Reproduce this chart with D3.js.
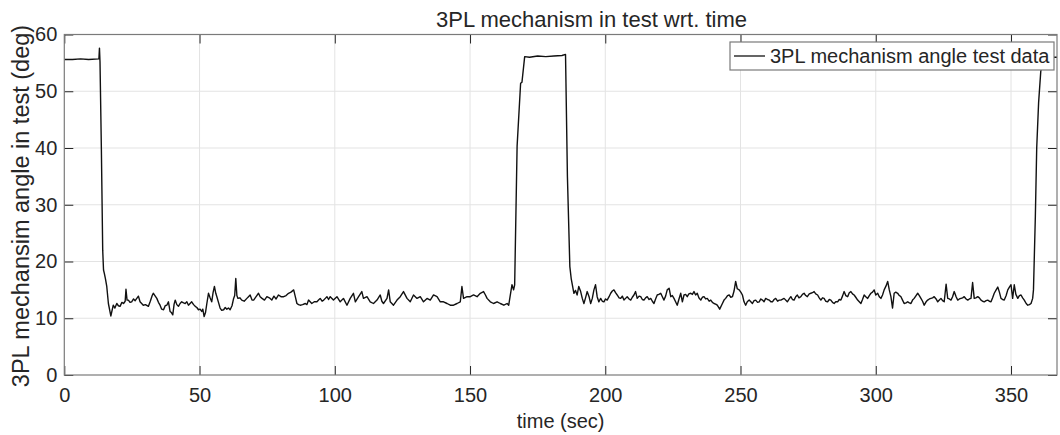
<!DOCTYPE html>
<html>
<head>
<meta charset="utf-8">
<script src="https://cdn.jsdelivr.net/npm/d3@7"></script>
<style>
  html, body { margin: 0; padding: 0; background: #ffffff; }
  svg { display: block; }
  text { font-family: "Liberation Sans", Arial, Helvetica, sans-serif; fill: #262626; }
</style>
</head>
<body>
<svg id="chart" width="1060" height="435"></svg>
<script>
// ---- data (time in seconds, angle in degrees) ----
const chartTitle = "3PL mechanism in test wrt. time";
const xLabel = "time (sec)";
const yLabel = "3PL mechansim angle in test (deg)";
const legendLabel = "3PL mechanism angle test data";
const xTicks = [0, 50, 100, 150, 200, 250, 300, 350];
const yTicks = [0, 10, 20, 30, 40, 50, 60];
const xDomain = [0, 367];
const yDomain = [0, 60];

const angleSeries = [
  [0,55.6],[3,55.6],[6,55.7],[9,55.6],[12.8,55.7],[13.0,57.6],[13.2,55.2],[13.7,40],[14.2,22],[14.5,18.5],
  [14.8,17.9],[15.2,17.0],[15.7,15.6],[16.3,12.6],[17.2,10.4],
  [18.1,12.3],[18.7,11.8],[19.4,12.6],[20.0,12.2],[20.6,12.1],[21.3,12.8],[21.9,12.6],[22.5,13.0],[22.8,15.1],[23.2,13.2],
  [23.7,13.2],[24.3,12.8],[24.9,12.9],[25.6,13.4],[26.2,13.1],[26.8,13.5],[27.4,13.9],[28.0,12.9],[28.6,12.6],[29.2,12.3],
  [30.0,12.4],[31.1,12.1],[31.8,13.0],[32.5,14.0],[32.9,14.4],[33.5,14.0],[34.2,13.5],[34.8,12.8],[35.4,12.3],[36.0,11.6],
  [36.7,11.5],[37.3,12.2],[37.9,12.3],[38.5,12.9],[39.1,11.2],[39.6,11.0],[40.1,10.6],[40.6,12.5],[41.0,13.2],[41.6,12.4],
  [42.2,12.1],[42.8,12.6],[43.4,12.9],[44.1,12.7],[44.7,12.6],[45.3,12.9],[45.9,12.3],[46.5,12.6],[47.1,12.9],[47.8,12.4],
  [48.4,12.1],[49.0,11.9],[49.6,11.5],[50.2,11.6],[50.8,11.2],[51.2,11.6],[51.7,10.3],[52.2,11.0],[52.7,12.6],[53.3,14.4],
  [53.9,13.6],[54.5,12.9],[55.0,14.5],[55.5,15.6],[56.0,14.4],[56.4,13.8],[57.0,12.8],[57.6,11.8],[58.2,11.4],[58.9,11.5],
  [59.5,11.9],[60.1,11.6],[60.7,11.8],[61.3,11.5],[62.0,12.2],[62.6,13.5],[63.0,14.0],[63.4,17.0],[63.8,14.0],[64.2,13.5],
  [64.9,13.6],[65.6,13.2],[66.5,13.0],[67.5,13.5],[68.1,13.8],[68.7,14.1],[69.4,13.2],[70.0,13.2],[70.9,13.8],[71.8,14.4],
  [72.4,13.8],[73.1,13.5],[74.0,13.2],[74.9,13.8],[75.8,13.6],[76.7,13.2],[77.5,13.9],[78.3,13.4],[79.2,14.1],[80.1,13.8],
  [81.1,13.8],[82.0,14.0],[82.9,14.4],[83.8,14.6],[84.8,15.0],[85.4,13.8],[86.0,12.6],[86.6,12.4],[87.2,12.3],[88.1,12.4],
  [89.1,12.6],[89.7,12.4],[90.3,13.2],[91.5,12.6],[92.4,12.9],[93.4,12.9],[94.0,13.2],[94.6,13.5],[95.3,13.0],[95.9,13.2],
  [96.5,13.5],[97.1,13.8],[97.7,13.3],[98.3,13.8],[99.5,13.2],[100.8,13.8],[102.0,12.9],[103.2,13.5],[104.5,12.3],[105.7,13.5],
  [106.9,14.4],[107.6,12.9],[108.8,13.8],[110.0,14.7],[110.6,13.5],[111.9,13.8],[113.1,12.9],[114.3,12.6],[115.6,13.2],[116.8,14.1],
  [117.4,13.0],[118.0,12.6],[119.3,13.5],[119.9,15.0],[120.5,12.9],[121.7,12.3],[123.0,13.2],[124.2,13.8],[125.4,14.7],[126.7,13.5],
  [127.9,12.9],[129.1,14.1],[130.4,13.5],[131.6,13.8],[132.8,12.9],[134.1,13.5],[135.3,13.2],[136.5,14.1],[137.8,13.8],[139.0,12.9],
  [140.2,12.9],[141.5,12.6],[142.7,12.3],[143.9,12.3],[145.2,12.6],[146.4,12.9],[147.0,15.6],[147.6,13.5],[148.9,13.8],[150.1,13.8],
  [151.3,14.1],[152.6,13.8],[153.8,14.4],[155.0,14.7],[155.7,14.1],[156.3,13.5],[157.5,12.9],[158.7,12.6],[160.0,12.9],[161.2,12.6],
  [162.5,12.3],[163.7,12.6],[164.3,12.3],[164.9,14.1],[165.5,15.9],[166.1,15.0],[166.5,15.9],[167.4,40.3],[168.7,51.4],[169.2,51.6],
  [170.2,56.1],[172.0,56.0],[175.0,56.2],[178.0,56.1],[181.0,56.2],[184.0,56.3],[185.3,56.5],[186.0,35.0],[186.9,19.1],[187.4,17.0],
  [188.4,14.4],[189.0,14.9],[189.6,14.1],[190.2,15.6],[190.9,14.7],[191.5,13.5],[192.1,12.6],[192.7,13.6],[193.3,14.7],[194.0,13.8],
  [194.6,12.6],[195.2,13.5],[195.8,15.0],[196.4,15.9],[197.0,13.8],[197.6,12.9],[198.3,13.5],[198.9,13.0],[199.5,12.9],[200.1,13.4],
  [200.7,13.2],[201.4,13.8],[202.0,14.4],[202.6,14.8],[203.2,15.0],[203.8,14.5],[204.4,14.1],[205.1,13.6],[205.7,13.5],[206.3,13.9],
  [206.9,13.2],[207.5,13.5],[208.1,13.8],[208.8,13.4],[209.4,13.2],[210.0,13.7],[210.6,14.1],[211.2,14.7],[211.8,13.5],[212.5,13.9],
  [213.1,13.8],[213.7,13.3],[214.3,13.2],[214.9,13.6],[215.5,13.8],[216.2,13.3],[216.8,13.5],[217.4,13.0],[218.0,12.6],[218.6,13.4],
  [219.2,14.1],[219.8,14.2],[220.5,14.4],[221.1,13.8],[221.7,13.2],[222.3,13.9],[222.9,15.0],[223.6,15.3],[224.2,13.8],[224.8,14.0],
  [225.4,13.5],[226.0,12.9],[226.6,12.3],[227.2,13.3],[227.9,14.4],[228.5,12.9],[229.1,14.1],[229.7,14.2],[230.3,13.8],[230.9,14.3],
  [231.6,14.4],[232.2,14.2],[232.8,14.7],[233.4,14.1],[234.0,14.4],[234.6,13.6],[235.3,13.2],[235.9,13.7],[236.5,13.8],[237.1,13.4],
  [237.7,13.5],[238.4,13.0],[239.0,13.2],[239.6,12.8],[240.2,12.6],[240.8,12.5],[241.4,12.3],[242.3,11.6],[243.3,12.6],[243.9,13.2],
  [244.5,13.5],[245.2,14.0],[245.8,14.1],[246.4,13.7],[247.0,13.8],[247.6,14.8],[248.2,16.5],[248.8,15.2],[249.5,15.0],[250.1,14.6],
  [250.7,14.1],[251.3,12.9],[251.9,12.3],[252.5,12.9],[253.2,13.2],[253.8,12.9],[254.4,12.6],[255.0,13.1],[255.6,13.2],[256.3,12.8],
  [256.9,12.9],[257.5,13.4],[258.1,13.2],[258.7,12.9],[259.3,13.5],[260.0,13.3],[260.6,13.2],[261.2,12.9],[261.8,12.9],[262.4,13.3],
  [263.0,13.5],[263.7,13.0],[264.3,13.2],[264.9,13.2],[266.1,13.5],[267.3,12.9],[268.0,13.4],[268.6,13.8],[269.2,13.3],[269.8,13.2],
  [270.4,13.8],[271.0,14.1],[271.6,13.6],[272.3,13.8],[272.9,14.2],[273.5,14.4],[274.1,14.0],[274.7,13.8],[275.4,14.3],[276.0,14.4],
  [276.6,14.5],[277.2,14.7],[277.8,14.3],[278.5,14.1],[279.1,13.6],[279.7,13.2],[280.3,13.6],[280.9,13.5],[281.5,13.0],[282.2,12.9],
  [282.8,13.3],[283.4,13.2],[284.0,12.8],[284.6,12.6],[285.2,12.9],[285.9,12.9],[286.5,13.3],[287.1,13.2],[287.7,13.9],[288.3,14.7],
  [288.9,14.0],[289.6,13.8],[290.2,14.5],[290.8,14.7],[291.4,14.3],[292.0,14.1],[292.6,13.7],[293.3,13.2],[293.9,12.9],[294.5,12.6],
  [295.1,13.3],[295.7,14.1],[296.3,13.8],[297.0,13.5],[297.6,14.0],[298.2,14.4],[298.8,14.6],[299.4,15.0],[300.0,14.1],[300.7,14.4],
  [301.3,13.8],[301.9,13.5],[302.5,14.1],[303.1,15.0],[303.8,15.7],[304.4,16.5],[305.0,15.0],[305.6,13.8],[306.2,11.8],[306.8,14.4],
  [307.4,14.6],[308.1,14.4],[308.7,14.0],[309.3,13.8],[309.9,13.2],[310.5,12.6],[311.2,12.7],[311.8,12.9],[312.4,12.7],[313.0,12.6],
  [313.6,13.2],[314.2,13.5],[314.9,14.0],[315.5,14.4],[316.1,14.0],[316.7,13.5],[317.3,13.0],[317.9,12.3],[318.6,12.9],[319.2,13.2],
  [319.8,13.4],[320.4,13.5],[321.0,13.6],[321.6,13.8],[322.3,13.4],[322.9,12.9],[323.5,13.2],[324.1,13.5],[324.7,13.1],[325.3,12.9],
  [326.0,16.0],[326.6,13.5],[327.2,13.4],[327.8,13.2],[328.4,13.8],[329.0,14.7],[329.7,13.8],[330.3,13.2],[330.9,13.4],[331.5,13.5],
  [332.1,13.6],[332.7,13.8],[333.4,13.4],[334.0,13.2],[334.6,13.4],[335.2,13.5],[335.8,16.3],[336.4,13.5],[337.0,13.6],[337.7,13.8],
  [338.3,13.6],[338.9,13.2],[339.5,13.0],[340.1,12.9],[340.8,13.1],[341.4,13.2],[342.0,13.0],[342.6,12.9],[343.2,13.6],[343.8,14.4],
  [344.5,15.0],[345.1,15.5],[345.7,14.6],[346.3,13.5],[346.9,13.3],[347.5,13.2],[348.2,14.0],[348.8,15.0],[349.4,15.5],[350.0,15.9],
  [350.6,13.5],[351.2,15.9],[351.8,14.2],[352.5,13.5],[353.1,14.0],[353.7,14.1],[354.3,13.6],[354.9,13.2],[355.6,12.6],[356.2,12.3],
  [356.8,12.4],[357.4,12.6],[358.0,13.5],[358.3,15.0],[359.0,28.0],[359.5,40.0],[360.2,48.0],[361.0,53.5],[362.0,56.0],[367.0,56.0]
];

// ---- layout ----
const plot = { left: 64.3, right: 1057, top: 34.5, bottom: 375 };
const svg = d3.select("#chart");

const x = d3.scaleLinear().domain(xDomain).range([plot.left, plot.right]);
const y = d3.scaleLinear().domain(yDomain).range([plot.bottom, plot.top]);

const axisColor = "#7a7a7a";
const tickColor = "#262626";
const gridColor = "#e3e3e3";

// grid
const grid = svg.append("g");
grid.selectAll("line.gx").data(xTicks.filter(d => d > xDomain[0])).enter().append("line")
  .attr("x1", d => x(d)).attr("x2", d => x(d))
  .attr("y1", plot.top).attr("y2", plot.bottom)
  .attr("stroke", gridColor).attr("stroke-width", 1);
grid.selectAll("line.gy").data(yTicks.filter(d => d > yDomain[0] && d < yDomain[1])).enter().append("line")
  .attr("x1", plot.left).attr("x2", plot.right)
  .attr("y1", d => y(d)).attr("y2", d => y(d))
  .attr("stroke", gridColor).attr("stroke-width", 1);

// data line
const line = d3.line().x(d => x(d[0])).y(d => y(d[1]));
svg.append("path")
  .datum(angleSeries)
  .attr("fill", "none")
  .attr("stroke", "#111111")
  .attr("stroke-width", 1.4)
  .attr("stroke-linejoin", "round")
  .attr("d", line);

// axes with inward ticks on all four sides
const tickLen = 9;
function styleAxis(g) {
  g.select(".domain").remove();
  g.selectAll(".tick line").attr("stroke", tickColor).attr("stroke-width", 1);
  g.selectAll(".tick text").attr("fill", "#262626")
    .style("font-family", '"Liberation Sans", Arial, sans-serif').style("font-size", "20px");
}
svg.append("g").attr("transform", `translate(0,${plot.bottom})`)
  .call(d3.axisBottom(x).tickValues(xTicks).tickSize(-tickLen).tickPadding(13).tickFormat(d3.format("d")))
  .call(styleAxis);
svg.append("g").attr("transform", `translate(0,${plot.top})`)
  .call(d3.axisTop(x).tickValues(xTicks).tickSize(-tickLen).tickFormat(""))
  .call(styleAxis);
svg.append("g").attr("transform", `translate(${plot.left},0)`)
  .call(d3.axisLeft(y).tickValues(yTicks).tickSize(-tickLen).tickPadding(7).tickFormat(d3.format("d")))
  .call(styleAxis);
svg.append("g").attr("transform", `translate(${plot.right},0)`)
  .call(d3.axisRight(y).tickValues(yTicks).tickSize(-tickLen).tickFormat(""))
  .call(styleAxis);

// box
svg.append("rect")
  .attr("x", plot.left).attr("y", plot.top)
  .attr("width", plot.right - plot.left).attr("height", plot.bottom - plot.top)
  .attr("fill", "none").attr("stroke", axisColor).attr("stroke-width", 1.2);

// title & labels
svg.append("text").attr("x", 747).attr("y", 27)
  .attr("text-anchor", "end").style("font-size", "22px").text(chartTitle);
svg.append("text").attr("x", (plot.left + plot.right) / 2).attr("y", 428)
  .attr("text-anchor", "middle").style("font-size", "20px").text(xLabel);
svg.append("text").attr("transform", `translate(29,206) rotate(-90)`)
  .attr("text-anchor", "middle").style("font-size", "23.5px").text(yLabel);

// legend
const lg = svg.append("g");
lg.append("rect").attr("x", 730).attr("y", 42).attr("width", 324).attr("height", 28)
  .attr("fill", "#ffffff").attr("stroke", axisColor).attr("stroke-width", 1.2);
lg.append("line").attr("x1", 734).attr("x2", 765).attr("y1", 56).attr("y2", 56)
  .attr("stroke", "#111111").attr("stroke-width", 1.3);
lg.append("text").attr("x", 770).attr("y", 63).style("font-size", "20px").text(legendLabel);
</script>
</body>
</html>
